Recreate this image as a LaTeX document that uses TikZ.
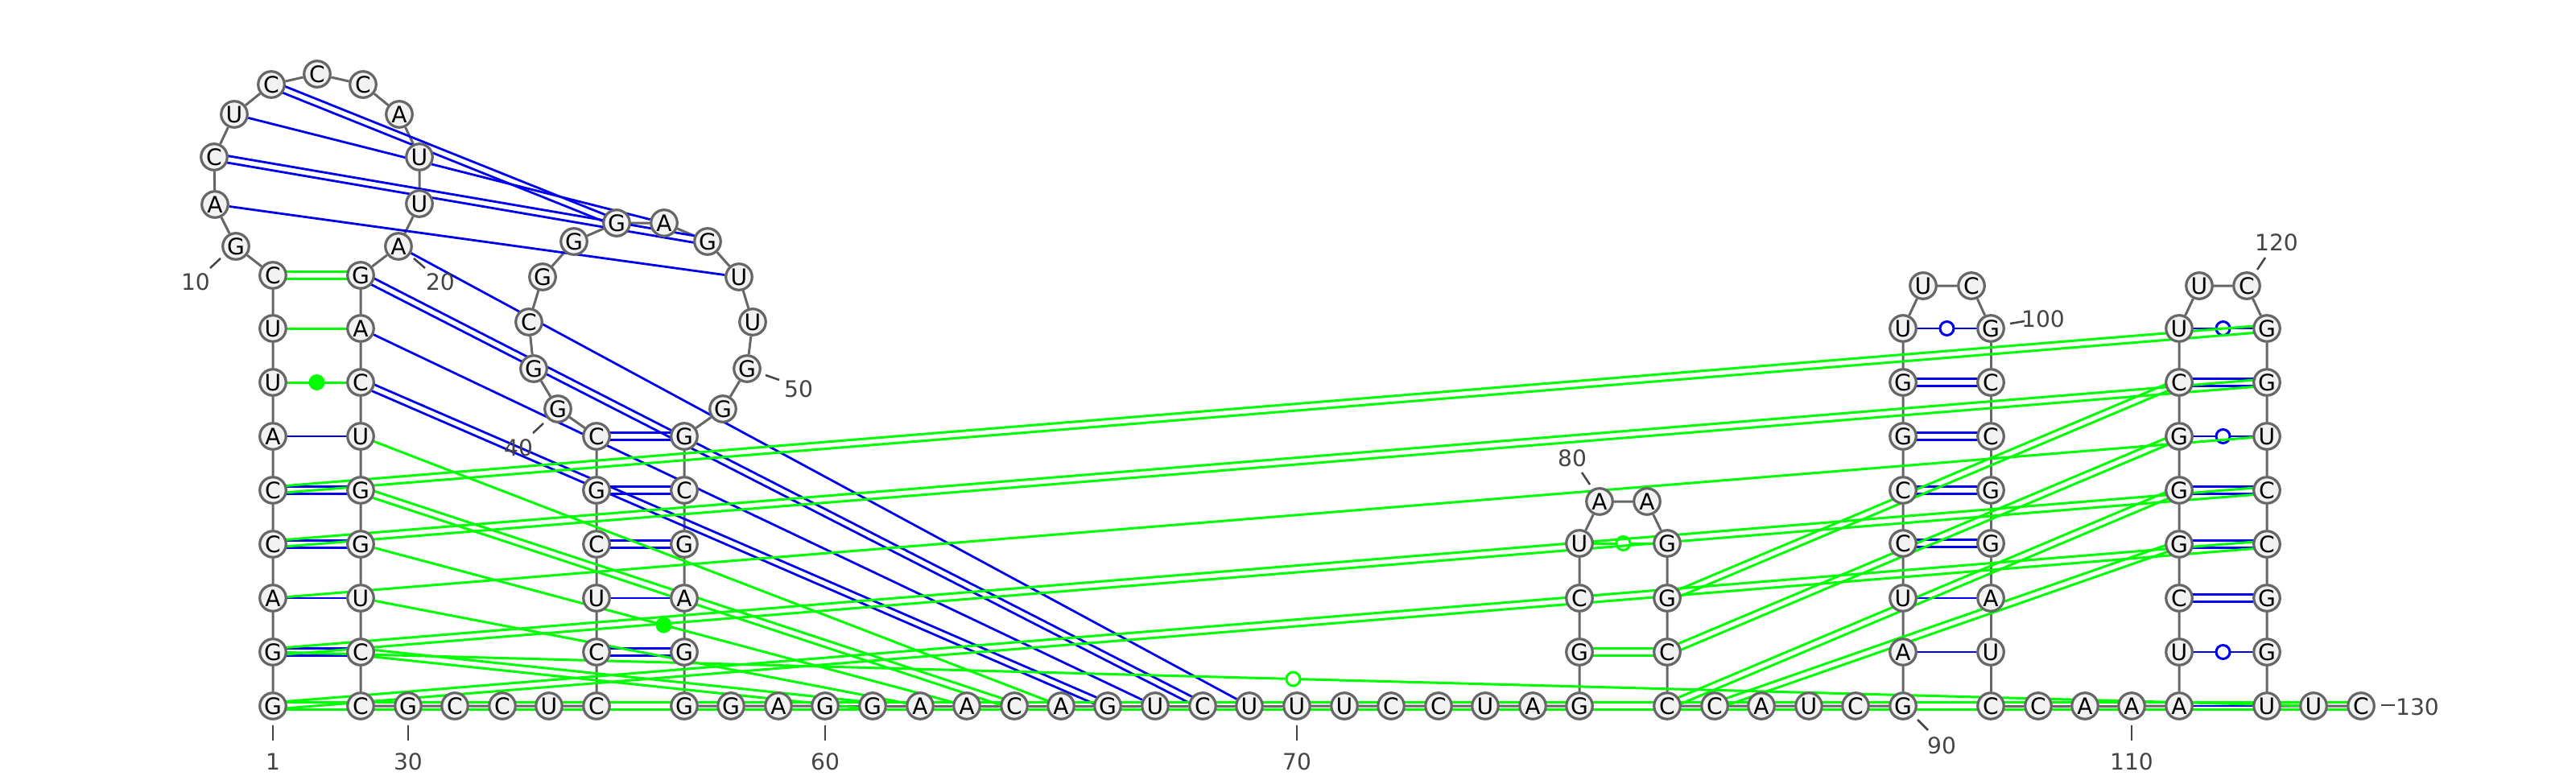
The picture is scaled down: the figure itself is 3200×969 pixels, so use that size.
\documentclass[tikz,border=0pt]{standalone}
\usepackage{fontspec}
\setmainfont{DejaVu Sans}
\usetikzlibrary{calc,backgrounds}
\definecolor{basefill}{RGB}{242,242,242}
\definecolor{baseline}{RGB}{102,102,102}
\definecolor{numtext}{RGB}{68,68,68}
\definecolor{pairblue}{RGB}{0,0,240}
\definecolor{pairgreen}{RGB}{0,255,0}
\tikzset{
  base/.style={circle,draw=baseline,fill=basefill,line width=0.32mm,minimum size=3.25mm,inner sep=0pt,font=\fontsize{8pt}{8pt}\selectfont},
  backbone/.style={draw=baseline,line width=0.3mm},
  bluepair/.style={draw=pairblue,line width=0.28mm},
  greenpair/.style={draw=pairgreen,line width=0.3mm},
  openblue/.style={circle,draw=pairblue,fill=white,line width=0.3mm,minimum size=1.7mm,inner sep=0pt},
  opengreen/.style={circle,draw=pairgreen,fill=white,line width=0.3mm,minimum size=1.7mm,inner sep=0pt},
  fullgreen/.style={circle,fill=pairgreen,minimum size=2mm,inner sep=0pt},
  numlabel/.style={text=numtext,inner sep=0pt,font=\fontsize{8pt}{8pt}\selectfont},
  numtick/.style={draw=numtext,line width=0.25mm}
}
\newcommand{\twolines}[3]{
  \draw[#1] ($(#2)!0.42mm!90:(#3)$) -- ($(#3)!0.42mm!-90:(#2)$);
  \draw[#1] ($(#2)!0.42mm!-90:(#3)$) -- ($(#3)!0.42mm!90:(#2)$);
}
\begin{document}
\begin{tikzpicture}[x=0.1mm,y=-0.1mm]
  \useasboundingbox (0,0) rectangle (3200,969);
  % first strand
  \path[every node/.style={base}]
    (339,877) node (1){G}
    (339,810) node (2){G}
    (339,743) node (3){A}
    (339,676) node (4){C}
    (339,609) node (5){C}
    (339,542) node (6){A}
    (339,475) node (7){U}
    (339,408) node (8){U}
    (339,342) node (9){C}
    (293,306) node (10){G}
    (267,254) node (11){A}
    (266,195) node (12){C}
    (291,142) node (13){U}
    (337,105) node (14){C}
    (394,92) node (15){C}
    (451,105) node (16){C}
    (496,142) node (17){A}
    (521,195) node (18){U}
    (521,253) node (19){U}
    (495,306) node (20){A}
    (448,342) node (21){G}
    (448,408) node (22){A}
    (448,475) node (23){C}
    (448,542) node (24){U}
    (448,609) node (25){G}
    (448,676) node (26){G}
    (448,743) node (27){U}
    (448,810) node (28){C}
    (448,877) node (29){C}
    (507,877) node (30){G}
    (565,877) node (31){C}
    (624,877) node (32){C}
    (682,877) node (33){U}
    (741,877) node (34){C}
    (741,810) node (35){C}
    (741,743) node (36){U}
    (741,676) node (37){C}
    (741,609) node (38){G}
    (741,542) node (39){C}
    (693,508) node (40){G}
    (663,458) node (41){G}
    (657,400) node (42){C}
    (674,344) node (43){G}
    (713,300) node (44){G}
    (766,277) node (45){G}
    (825,277) node (46){A}
    (879,300) node (47){G}
    (918,344) node (48){U}
    (935,400) node (49){U}
    (928,458) node (50){G}
    (898,508) node (51){G}
    (850,542) node (52){G}
    (850,609) node (53){C}
    (850,676) node (54){G}
    (850,743) node (55){A}
    (850,810) node (56){G}
    (850,877) node (57){G}
    (908,877) node (58){G}
    (967,877) node (59){A}
    (1025,877) node (60){G}
    (1084,877) node (61){G}
    (1143,877) node (62){A}
    (1201,877) node (63){A}
    (1260,877) node (64){C}
    (1318,877) node (65){A}
    (1376,877) node (66){G}
    (1435,877) node (67){U}
    (1494,877) node (68){C}
    (1552,877) node (69){U}
    (1611,877) node (70){U}
    (1670,877) node (71){U}
    (1728,877) node (72){C}
    (1787,877) node (73){C}
    (1845,877) node (74){U}
    (1904,877) node (75){A}
    (1962,877) node (76){G}
    (1962,810) node (77){G}
    (1962,743) node (78){C}
    (1962,675) node (79){U}
    (1987,623) node (80){A}
    (2046,623) node (81){A}
    (2071,675) node (82){G}
    (2071,743) node (83){G}
    (2071,810) node (84){C}
    (2071,877) node (85){C}
    (2130,877) node (86){C}
    (2188,877) node (87){A}
    (2247,877) node (88){U}
    (2305,877) node (89){C}
    (2364,877) node (90){G}
    (2364,810) node (91){A}
    (2364,743) node (92){U}
    (2364,675) node (93){C}
    (2364,609) node (94){C}
    (2364,542) node (95){G}
    (2364,475) node (96){G}
    (2364,408) node (97){U}
    (2389,355) node (98){U}
    (2449,355) node (99){C}
    (2473,408) node (100){G}
    (2473,475) node (101){C}
    (2473,542) node (102){C}
    (2473,609) node (103){G}
    (2473,675) node (104){G}
    (2473,743) node (105){A}
    (2473,810) node (106){U}
    (2473,877) node (107){C}
    (2532,877) node (108){C}
    (2590,877) node (109){A}
    (2648,877) node (110){A}
    (2707,877) node (111){A}
    (2707,810) node (112){U}
    (2707,743) node (113){C}
    (2707,676) node (114){G}
    (2707,609) node (115){G}
    (2707,542) node (116){G}
    (2707,475) node (117){C}
    (2707,408) node (118){U}
    (2732,355) node (119){U}
    (2791,355) node (120){C}
    (2816,408) node (121){G}
    (2816,475) node (122){G}
    (2816,542) node (123){U}
    (2816,609) node (124){C}
    (2816,676) node (125){C}
    (2816,743) node (126){G}
    (2816,810) node (127){G}
    (2816,877) node (128){U}
    (2874,877) node (129){U}
    (2933,877) node (130){C};
  % numbers
  \path[every node/.style={numlabel}]
    (339,946) node (num1){1}
    (243,350) node (num10){10}
    (547,350) node (num20){20}
    (507,946) node (num30){30}
    (644,556) node (num40){40}
    (992,483) node (num50){50}
    (1025,946) node (num60){60}
    (1611,946) node (num70){70}
    (1953,569) node (num80){80}
    (2412,926) node (num90){90}
    (2538,396) node (num100){100}
    (2648,946) node (num110){110}
    (2828,301) node (num120){120}
    (3003,878) node (num130){130};
  \coordinate (a1) at (339,901); \coordinate (b1) at (339,920);
  \coordinate (a10) at (274,321); \coordinate (b10) at (261,333);
  \coordinate (a20) at (514,321); \coordinate (b20) at (528,333);
  \coordinate (a30) at (507,901); \coordinate (b30) at (507,920);
  \coordinate (a40) at (675,526); \coordinate (b40) at (662,538);
  \coordinate (a50) at (951,466); \coordinate (b50) at (968,472);
  \coordinate (a60) at (1025,901); \coordinate (b60) at (1025,920);
  \coordinate (a70) at (1611,901); \coordinate (b70) at (1611,920);
  \coordinate (a80) at (1965,587); \coordinate (b80) at (1975,602);
  \coordinate (a90) at (2382,894); \coordinate (b90) at (2395,907);
  \coordinate (a100) at (2497,402); \coordinate (b100) at (2515,399);
  \coordinate (a110) at (2648,901); \coordinate (b110) at (2648,920);
  \coordinate (a120) at (2804,335); \coordinate (b120) at (2814,320);
  \coordinate (a130) at (2958,876); \coordinate (b130) at (2975,876);
  \begin{scope}[numtick]
    \draw (a1) to (b1);
    \draw (a10) to (b10);
    \draw (a20) to (b20);
    \draw (a30) to (b30);
    \draw (a40) to (b40);
    \draw (a50) to (b50);
    \draw (a60) to (b60);
    \draw (a70) to (b70);
    \draw (a80) to (b80);
    \draw (a90) to (b90);
    \draw (a100) to (b100);
    \draw (a110) to (b110);
    \draw (a120) to (b120);
    \draw (a130) to (b130);
  \end{scope}
  \begin{pgfonlayer}{background}
    % chain
    \begin{scope}[backbone]
      \draw (1) to (2) to (3) to (4) to (5) to (6) to (7) to (8) to (9) to (10);
      \draw (10) to (11) to (12) to (13) to (14) to (15) to (16) to (17) to (18) to (19) to (20);
      \draw (20) to (21) to (22) to (23) to (24) to (25) to (26) to (27) to (28) to (29) to (30);
      \draw (30) to (31) to (32) to (33) to (34) to (35) to (36) to (37) to (38) to (39) to (40);
      \draw (40) to (41) to (42) to (43) to (44) to (45) to (46) to (47) to (48) to (49) to (50);
      \draw (50) to (51) to (52) to (53) to (54) to (55) to (56) to (57) to (58) to (59) to (60);
      \draw (60) to (61) to (62) to (63) to (64) to (65) to (66) to (67) to (68) to (69) to (70);
      \draw (70) to (71) to (72) to (73) to (74) to (75) to (76) to (77) to (78) to (79) to (80);
      \draw (80) to (81) to (82) to (83) to (84) to (85) to (86) to (87) to (88) to (89) to (90);
      \draw (90) to (91) to (92) to (93) to (94) to (95) to (96) to (97) to (98) to (99) to (100);
      \draw (100) to (101) to (102) to (103) to (104) to (105) to (106) to (107) to (108) to (109) to (110);
      \draw (110) to (111) to (112) to (113) to (114) to (115) to (116) to (117) to (118) to (119) to (120);
      \draw (120) to (121) to (122) to (123) to (124) to (125) to (126) to (127) to (128) to (129) to (130);
    \end{scope}
    % blue pairs
    \begin{scope}[bluepair]
      \draw (6) to (24);
      \draw (3) to (27);
      \draw (11) to (48);
      \draw (13) to (46);
      \draw (20) to (69);
      \draw (22) to (67);
      \draw (36) to (55);
      \draw (92) to (105);
      \draw (91) to (106);
      \draw (111) to (128);
      \draw (97) -- node[openblue] (w97){} (100);
      \draw (118) -- node[openblue] (w118){} (121);
      \draw (116) -- node[openblue] (w116){} (123);
      \draw (112) -- node[openblue] (w112){} (127);
    \end{scope}
    \twolines{bluepair}{5}{25}
    \twolines{bluepair}{4}{26}
    \twolines{bluepair}{2}{28}
    \twolines{bluepair}{12}{47}
    \twolines{bluepair}{14}{45}
    \twolines{bluepair}{21}{68}
    \twolines{bluepair}{23}{66}
    \twolines{bluepair}{39}{52}
    \twolines{bluepair}{38}{53}
    \twolines{bluepair}{37}{54}
    \twolines{bluepair}{35}{56}
    \twolines{bluepair}{96}{101}
    \twolines{bluepair}{95}{102}
    \twolines{bluepair}{94}{103}
    \twolines{bluepair}{93}{104}
    \twolines{bluepair}{117}{122}
    \twolines{bluepair}{115}{124}
    \twolines{bluepair}{114}{125}
    \twolines{bluepair}{113}{126}
    % green pairs
    \begin{scope}[greenpair]
      \draw (8) to (22);
      \draw (24) to (65);
      \draw (27) to (62);
      \draw (3) to (123);
      \draw (7) -- node[fullgreen] (w7){} (23);
      \draw (26) -- node[fullgreen] (w26){} (63);
      \draw (79) -- node[opengreen] (w79){} (82);
      \draw (2) -- node[opengreen] (w2){} (129);
    \end{scope}
    \twolines{greenpair}{9}{21}
    \twolines{greenpair}{5}{121}
    \twolines{greenpair}{4}{122}
    \twolines{greenpair}{2}{124}
    \twolines{greenpair}{1}{125}
    \twolines{greenpair}{83}{117}
    \twolines{greenpair}{84}{116}
    \twolines{greenpair}{85}{115}
    \twolines{greenpair}{86}{114}
    \twolines{greenpair}{77}{84}
    \twolines{greenpair}{25}{64}
    \twolines{greenpair}{28}{61}
    \twolines{greenpair}{1}{130}
  \end{pgfonlayer}
\end{tikzpicture}
\end{document}
